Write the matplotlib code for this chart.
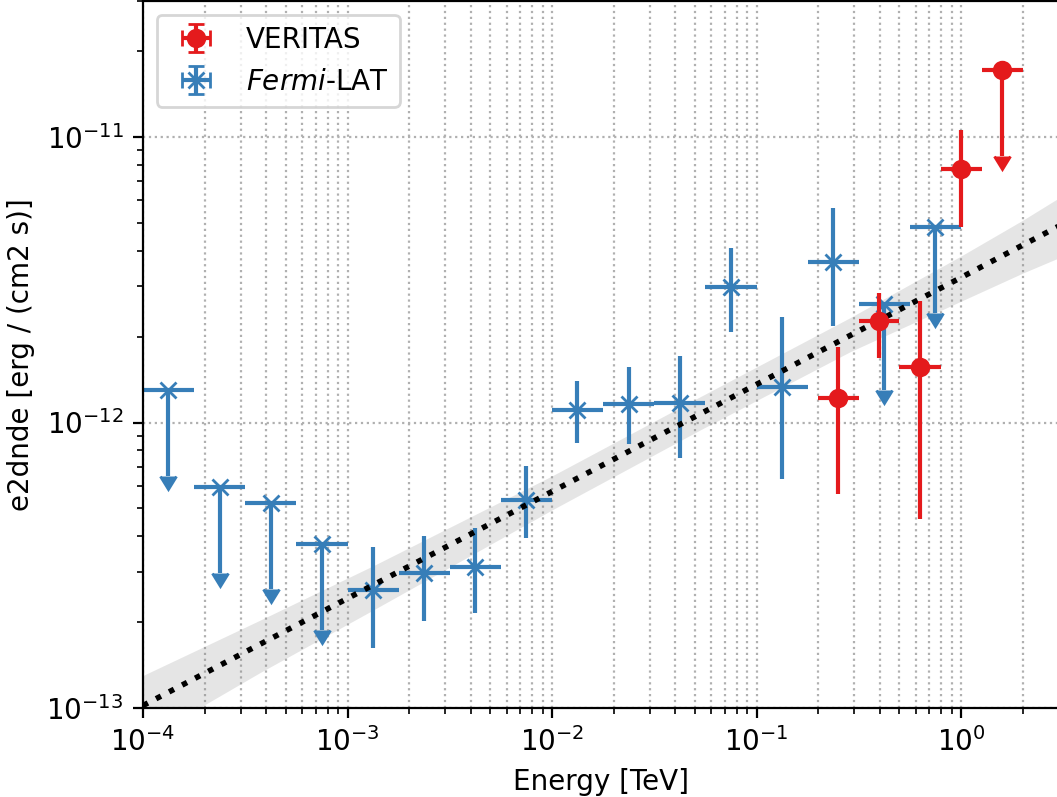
import numpy as np
import matplotlib
matplotlib.use("Agg")
import matplotlib.pyplot as plt

# Fermi-LAT flux points (TeV, erg / (cm2 s))
fermi_e = [1.33e-4, 2.37e-4, 4.22e-4, 7.50e-4, 1.33e-3, 2.37e-3, 4.22e-3, 7.50e-3,
           1.33e-2, 2.37e-2, 4.22e-2, 7.50e-2, 0.133, 0.237, 0.422, 0.750]
fermi_emin = [1.00e-4, 1.78e-4, 3.16e-4, 5.62e-4, 1.00e-3, 1.78e-3, 3.16e-3, 5.62e-3,
              1.00e-2, 1.78e-2, 3.16e-2, 5.62e-2, 0.100, 0.178, 0.316, 0.562]
fermi_emax = [1.78e-4, 3.16e-4, 5.62e-4, 1.00e-3, 1.78e-3, 3.16e-3, 5.62e-3, 1.00e-2,
              1.78e-2, 3.16e-2, 5.62e-2, 0.100, 0.178, 0.316, 0.562, 1.000]
fermi_flux = [1.30e-12, 5.94e-13, 5.22e-13, 3.75e-13, 2.59e-13, 2.97e-13, 3.12e-13, 5.35e-13,
              1.11e-12, 1.16e-12, 1.17e-12, 2.98e-12, 1.33e-12, 3.65e-12, 2.60e-12, 4.84e-12]
fermi_hi = [np.nan, np.nan, np.nan, np.nan, 3.66e-13, 4.00e-13, 4.27e-13, 7.04e-13,
            1.40e-12, 1.56e-12, 1.71e-12, 4.09e-12, 2.34e-12, 5.64e-12, np.nan, np.nan]
fermi_lo = [np.nan, np.nan, np.nan, np.nan, 1.62e-13, 2.02e-13, 2.15e-13, 3.94e-13,
            8.47e-13, 8.41e-13, 7.50e-13, 2.07e-12, 6.34e-13, 2.18e-12, np.nan, np.nan]
fermi_ul = [True, True, True, True, False, False, False, False,
            False, False, False, False, False, False, True, True]

# VERITAS flux points
veritas_e = [0.251, 0.398, 0.631, 1.00, 1.585]
veritas_emin = [0.200, 0.316, 0.500, 0.794, 1.26]
veritas_emax = [0.316, 0.500, 0.794, 1.26, 2.00]
veritas_flux = [1.22e-12, 2.27e-12, 1.56e-12, 7.73e-12, 1.72e-11]
veritas_hi = [1.84e-12, 2.84e-12, 2.66e-12, 1.06e-11, np.nan]
veritas_lo = [5.62e-13, 1.68e-12, 4.59e-13, 4.84e-12, np.nan]
veritas_ul = [False, False, False, False, True]

# best-fit model and its error band
model_e = [1e-4, 1e-3, 1e-2, 1e-1, 1.0, 3.0]
model_flux = [1.02e-13, 2.42e-13, 5.73e-13, 1.36e-12, 3.22e-12, 4.87e-12]
band_e = [1e-4, 3.73e-4, 1.36e-3, 1.0e-2, 0.0529, 0.287, 1.0, 2.01, 3.0]
band_hi = [1.30e-13, 2.03e-13, 3.17e-13, 6.50e-13, 1.23e-12, 2.33e-12, 3.83e-12, 5.12e-12, 6.11e-12]
band_lo = [7.69e-14, 1.33e-13, 2.22e-13, 4.94e-13, 9.41e-13, 1.77e-12, 2.66e-12, 3.34e-12, 3.77e-12]


def plot_points(ax, e, emin, emax, flux, hi, lo, ul, **kwargs):
    e, emin, emax = np.array(e), np.array(emin), np.array(emax)
    flux, hi, lo = np.array(flux), np.array(hi), np.array(lo)
    ul = np.array(ul)
    yerrn = np.where(ul, 0.5 * flux, flux - lo)
    yerrp = np.where(ul, 0.0, hi - flux)
    ax.errorbar(e, flux, xerr=[e - emin, emax - e], yerr=[yerrn, yerrp],
                uplims=ul, **kwargs)


fig = plt.figure(figsize=(1057 / 200, 797 / 200), dpi=200)
ax = fig.add_axes([143 / 1057, 89 / 797, 915.6 / 1057, 707.2 / 797])

ax.fill_between(band_e, band_lo, band_hi, color="gray", alpha=0.2, lw=0, zorder=1)
plot_points(ax, fermi_e, fermi_emin, fermi_emax, fermi_flux, fermi_hi, fermi_lo, fermi_ul,
            fmt="x", color="#377eb8", label=r"$\it{Fermi}$-LAT", zorder=2)
ax.plot(model_e, model_flux, ls=":", color="black", lw=2, zorder=3)
plot_points(ax, veritas_e, veritas_emin, veritas_emax, veritas_flux, veritas_hi, veritas_lo,
            veritas_ul, fmt="o", color="#e41a1c", label="VERITAS", zorder=4)

ax.set_xscale("log")
ax.set_yscale("log")
ax.set_xlim(1e-4, 3.0)
ax.set_ylim(1e-13, 3e-11)
ax.grid(which="both", axis="x", ls=":")
ax.grid(which="major", axis="y", ls=":")
ax.set_axisbelow(True)
ax.set_xlabel("Energy [TeV]")
ax.set_ylabel("e2dnde [erg / (cm2 s)]")

handles, labels = ax.get_legend_handles_labels()
ax.legend(handles[::-1], labels[::-1], loc="upper left")

fig.savefig("out.png", dpi=200)
